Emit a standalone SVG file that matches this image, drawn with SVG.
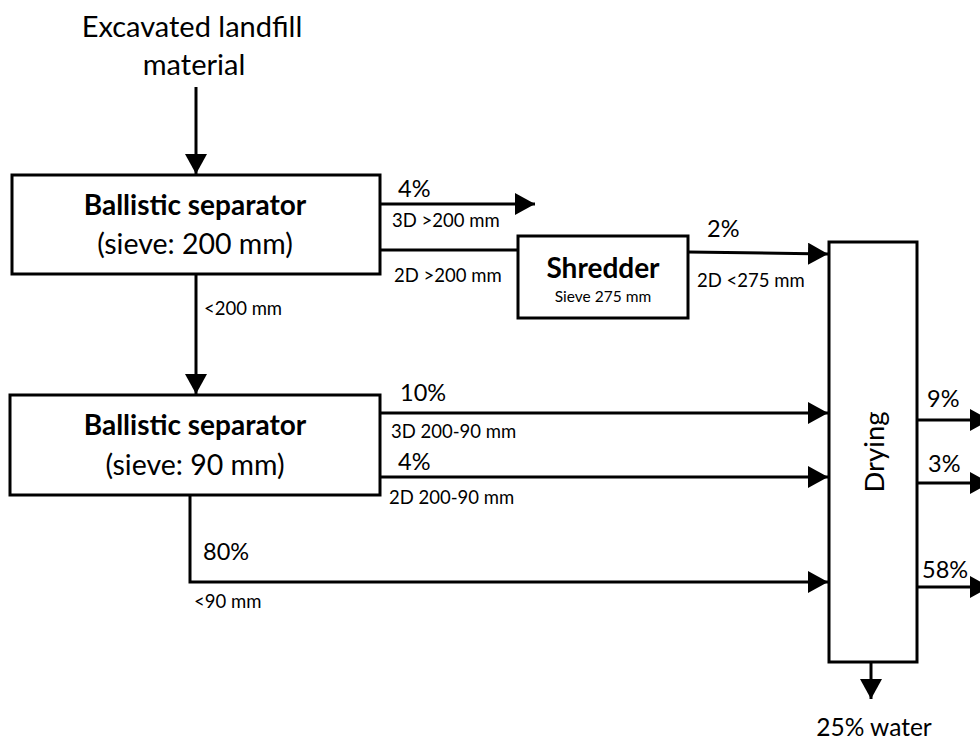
<svg xmlns="http://www.w3.org/2000/svg" width="980" height="742" viewBox="0 0 980 742">
<style>
text{font-family:Lato,"Open Sans","Liberation Sans",sans-serif;fill:#000}
.box{fill:#fff;stroke:#000;stroke-width:3}
.ln{fill:none;stroke:#000;stroke-width:3}
.title{font-size:29px;text-anchor:middle}
.bt{font-size:28px;font-weight:bold;text-anchor:middle}
.rt{font-size:28.5px;text-anchor:middle}
.pc{font-size:23.5px}
.sm{font-size:18.5px}
</style>
<defs>
<marker id="ah" markerUnits="userSpaceOnUse" markerWidth="20" markerHeight="22" refX="20" refY="11" orient="auto" viewBox="0 0 20 22">
<path d="M0,0 L20,11 L0,22 Z" fill="#000"/>
</marker>
</defs>
<g id="input">
<text class="title" x="192" y="37">Excavated landfill</text>
<text class="title" x="194" y="75">material</text>
</g>
<g id="connectors">
<line class="ln" x1="196" y1="87" x2="196" y2="174" marker-end="url(#ah)"/>
<line class="ln" x1="380" y1="204" x2="535" y2="204" marker-end="url(#ah)"/>
<line class="ln" x1="380" y1="250" x2="518" y2="250"/>
<line class="ln" x1="688" y1="252" x2="828" y2="254" marker-end="url(#ah)"/>
<line class="ln" x1="196" y1="274" x2="196" y2="394" marker-end="url(#ah)"/>
<line class="ln" x1="380" y1="413" x2="828" y2="413" marker-end="url(#ah)"/>
<line class="ln" x1="380" y1="477" x2="828" y2="477" marker-end="url(#ah)"/>
<polyline class="ln" points="190,495 190,582 828,582" marker-end="url(#ah)"/>
<line class="ln" x1="917" y1="420" x2="990" y2="420" marker-end="url(#ah)"/>
<line class="ln" x1="917" y1="483" x2="990" y2="483" marker-end="url(#ah)"/>
<line class="ln" x1="917" y1="587" x2="990" y2="587" marker-end="url(#ah)"/>
<line class="ln" x1="871" y1="662" x2="871" y2="699" marker-end="url(#ah)"/>
<text class="pc" x="398" y="197">4%</text>
<text class="sm" x="392" y="227">3D &gt;200 mm</text>
<text class="sm" x="394" y="282">2D &gt;200 mm</text>
<text class="pc" x="707" y="237">2%</text>
<text class="sm" x="697" y="287">2D &lt;275 mm</text>
<text class="sm" x="204" y="315">&lt;200 mm</text>
<text class="pc" x="400" y="401">10%</text>
<text class="sm" x="391" y="438">3D 200-90 mm</text>
<text class="pc" x="398" y="470">4%</text>
<text class="sm" x="389" y="504">2D 200-90 mm</text>
<text class="pc" x="203" y="560">80%</text>
<text class="sm" x="194" y="608">&lt;90 mm</text>
<text class="pc" x="927" y="407">9%</text>
<text class="pc" x="928" y="472">3%</text>
<text class="pc" x="922" y="578">58%</text>
<text class="pc" x="874" y="736" text-anchor="middle" style="font-size:24.5px">25% water</text>
</g>
<g id="bs200">
<rect class="box" x="12" y="175" width="368" height="99"/>
<text class="bt" x="195" y="215">Ballistic separator</text>
<text class="rt" x="195" y="254">(sieve: 200 mm)</text>
</g>
<g id="shredder">
<rect class="box" x="518" y="236" width="170" height="82"/>
<text class="bt" x="603" y="278">Shredder</text>
<text x="603" y="302" style="font-size:15.5px;text-anchor:middle">Sieve 275 mm</text>
</g>
<g id="bs90">
<rect class="box" x="10" y="395" width="370" height="100"/>
<text class="bt" x="195" y="435">Ballistic separator</text>
<text class="rt" x="195" y="475">(sieve: 90 mm)</text>
</g>
<g id="drying">
<rect class="box" x="829" y="242" width="88" height="420"/>
<text transform="translate(884,452) rotate(-90)" style="font-size:27.5px;text-anchor:middle">Drying</text>
</g>
</svg>
